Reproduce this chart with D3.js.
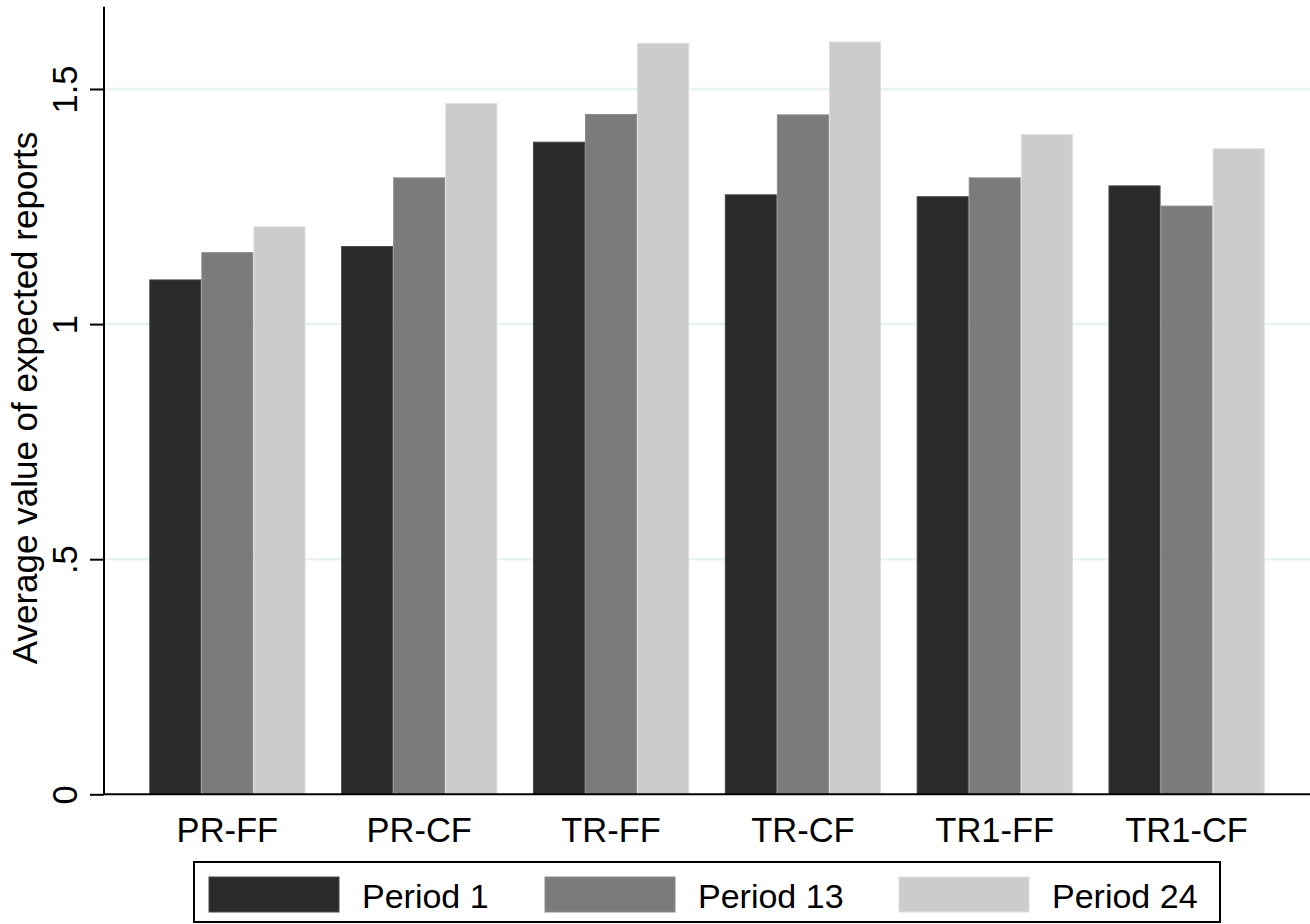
<!DOCTYPE html>
<html>
<head>
<meta charset="utf-8">
<script src="https://cdn.jsdelivr.net/npm/d3@7"></script>
<style>
  html, body { margin: 0; padding: 0; background: #fff; }
  svg { display: block; }
  text { font-family: "Liberation Sans", Arial, sans-serif; fill: #000; }
</style>
</head>
<body>
<svg id="chart" width="1310" height="924"></svg>
<script>
const categories = ["PR-FF", "PR-CF", "TR-FF", "TR-CF", "TR1-FF", "TR1-CF"];
const seriesNames = ["Period 1", "Period 13", "Period 24"];
const period1  = [1.095, 1.166, 1.388, 1.276, 1.272, 1.295];
const period13 = [1.153, 1.312, 1.447, 1.446, 1.312, 1.252];
const period24 = [1.208, 1.470, 1.598, 1.601, 1.404, 1.374];
const yTicks = [0, 0.5, 1, 1.5];
const yTickLabels = ["0", ".5", "1", "1.5"];
const yTitle = "Average value of expected reports";

(function () {
const seriesValues = [period1, period13, period24];
const colors = ["#2a2a2a", "#7b7b7b", "#cccccc"];
const strokes = ["#4a4a4a", "#8c8c8c", "#dedede"];

const svg = d3.select("#chart");
const pLeft = 104, pRight = 1310, pTop = 6.7, pBottom = 794.3;

const x = d3.scaleBand().domain(categories).range([pLeft, pRight])
  .paddingInner(0.1855).paddingOuter(0.236);
const xs = d3.scaleBand().domain(seriesNames).range([0, x.bandwidth()]);
const y = d3.scaleLinear().domain([0, 1.675]).range([pBottom, pTop]);

// gridlines
svg.append("g").selectAll("line")
  .data(yTicks.filter(d => d > 0))
  .join("line")
  .attr("x1", pLeft).attr("x2", pRight)
  .attr("y1", d => y(d)).attr("y2", d => y(d))
  .attr("stroke", "#e9f1f2").attr("stroke-width", 2.5);

// bars
const rows = categories.map((c, i) => ({ cat: c, vals: seriesValues.map((s, k) => ({ name: seriesNames[k], k, v: s[i] })) }));
const groups = svg.append("g").selectAll("g").data(rows).join("g")
  .attr("transform", d => `translate(${x(d.cat)},0)`);
groups.selectAll("rect").data(d => d.vals).join("rect")
  .attr("x", d => xs(d.name) + 0.5)
  .attr("width", xs.bandwidth() - 1)
  .attr("y", d => y(d.v) + 0.5)
  .attr("height", d => y(0) - y(d.v) - 0.5)
  .attr("fill", d => colors[d.k])
  .attr("stroke", d => strokes[d.k])
  .attr("stroke-width", 1);

// y axis
const yAxis = d3.axisLeft(y).tickValues(yTicks).tickFormat((d, i) => yTickLabels[i]).tickSize(14).tickPadding(0);
const ya = svg.append("g").attr("transform", `translate(${pLeft},0)`).call(yAxis);
ya.select(".domain").attr("d", `M0,${pTop}V${pBottom}`).attr("stroke", "#000").attr("stroke-width", 2);
ya.selectAll(".tick line").attr("stroke", "#000").attr("stroke-width", 2);
ya.selectAll(".tick text")
  .attr("font-size", 34.5).attr("font-family", "Liberation Sans, Arial, sans-serif")
  .attr("text-anchor", "middle").attr("x", null).attr("dy", null)
  .attr("transform", "translate(-27,0) rotate(-90)")
  .attr("fill", "#000");

// x axis
const xAxis = d3.axisBottom(x).tickSize(0).tickPadding(0);
const xa = svg.append("g").attr("transform", `translate(0,${pBottom})`).call(xAxis);
xa.select(".domain").attr("d", `M${pLeft},0H${pRight}`).attr("stroke", "#000").attr("stroke-width", 2);
xa.selectAll(".tick text")
  .attr("font-size", 34.5).attr("font-family", "Liberation Sans, Arial, sans-serif")
  .attr("y", 47.5).attr("dy", null).attr("fill", "#000");

// y title
svg.append("text")
  .attr("transform", `translate(37,398) rotate(-90)`)
  .attr("text-anchor", "middle").attr("font-size", 35)
  .text(yTitle);

// legend
const lg = svg.append("g");
lg.append("rect").attr("x", 194).attr("y", 862).attr("width", 1026).attr("height", 60)
  .attr("fill", "#fff").attr("stroke", "#000").attr("stroke-width", 2);
const swatchX = [209, 545, 899];
const items = lg.selectAll("g.item").data(seriesNames).join("g").attr("class", "item")
  .attr("transform", (d, i) => `translate(${swatchX[i]},877)`);
items.append("rect").attr("width", 130).attr("height", 35)
  .attr("fill", (d, i) => colors[i]).attr("stroke", (d, i) => strokes[i]).attr("stroke-width", 1);
items.append("text").attr("x", 153).attr("y", 30.5).attr("font-size", 34).text(d => d);
})();
</script>
</body>
</html>
